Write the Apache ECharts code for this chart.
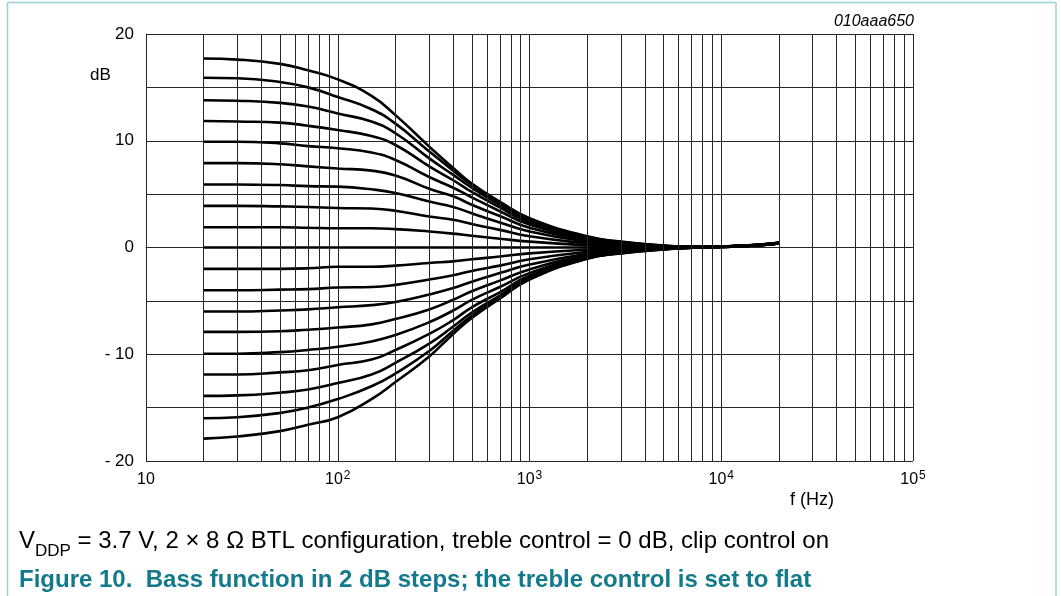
<!DOCTYPE html>
<html>
<head>
<meta charset="utf-8">
<script src="https://cdn.jsdelivr.net/npm/echarts@6/dist/echarts.min.js"></script>
<style>
html,body{margin:0;padding:0;background:#fff;}
#chart{width:1061px;height:596px;}
</style>
</head>
<body>
<div id="chart"></div>
<script>
// Frequencies (Hz) at which the curves were read
const freqs = [20,30,50,70,100,150,200,300,400,500,700,1000,2000,3000,5000,7000,10000,15000,20000];

// Bass boost / cut curves (dB), 2 dB steps
const b18 = [17.7,17.6,17.2,16.6,15.75,14.2,12.4,9.45,7.45,6.0,4.3,2.75,1.05,0.55,0.18,0.07,0.1,0.24,0.45];
const b16 = [15.9,15.85,15.5,15.0,14.1,12.95,11.6,9.0,7.2,5.85,4.2,2.65,1.0,0.52,0.17,0.07,0.1,0.24,0.44];
const b14 = [13.8,13.75,13.55,13.2,12.55,11.8,10.7,8.35,6.8,5.6,4.0,2.5,0.95,0.48,0.16,0.06,0.09,0.23,0.44];
const b12 = [11.85,11.8,11.7,11.4,11.0,10.45,9.6,7.6,6.3,5.2,3.75,2.35,0.88,0.44,0.15,0.06,0.09,0.23,0.43];
const b10 = [9.9,9.9,9.75,9.5,9.3,8.9,8.2,6.6,5.6,4.7,3.4,2.15,0.8,0.4,0.13,0.05,0.09,0.22,0.43];
const b8  = [7.9,7.9,7.8,7.6,7.4,7.2,6.75,5.5,4.8,4.0,2.95,1.85,0.68,0.34,0.11,0.05,0.08,0.22,0.42];
const b6  = [5.9,5.9,5.85,5.75,5.7,5.45,5.1,4.3,3.8,3.2,2.35,1.5,0.55,0.27,0.08,0.04,0.08,0.22,0.42];
const b4  = [3.9,3.9,3.85,3.8,3.7,3.65,3.45,2.9,2.6,2.2,1.65,1.05,0.38,0.18,0.05,0.03,0.08,0.21,0.42];
const b2  = [1.9,1.9,1.9,1.85,1.8,1.8,1.72,1.5,1.3,1.1,0.82,0.55,0.2,0.09,0.03,0.03,0.08,0.21,0.41];
const flat = [0,0,0,0,0,0,0,0,0,0,0,0,0,0,0,0.02,0.08,0.21,0.41];
const c2  = [-2.0,-2.0,-2.0,-1.95,-1.8,-1.8,-1.7,-1.45,-1.3,-1.1,-0.85,-0.55,-0.2,-0.1,-0.03,0.02,0.07,0.21,0.41];
const c4  = [-4.0,-4.0,-3.95,-3.9,-3.75,-3.7,-3.5,-3.0,-2.6,-2.2,-1.7,-1.1,-0.4,-0.2,-0.06,0.01,0.07,0.2,0.4];
const c6  = [-6.0,-6.0,-5.9,-5.8,-5.6,-5.4,-5.1,-4.4,-3.8,-3.2,-2.4,-1.6,-0.58,-0.3,-0.09,0.0,0.07,0.2,0.4];
const c8  = [-7.9,-7.9,-7.85,-7.7,-7.5,-7.2,-6.7,-5.8,-4.9,-4.1,-3.1,-2.05,-0.72,-0.37,-0.11,0.0,0.06,0.2,0.4];
const c10 = [-9.95,-9.95,-9.8,-9.6,-9.3,-8.8,-8.2,-7.0,-5.9,-4.9,-3.7,-2.4,-0.84,-0.43,-0.13,-0.01,0.06,0.2,0.39];
const c12 = [-11.9,-11.9,-11.7,-11.5,-11.0,-10.5,-9.6,-8.1,-6.8,-5.6,-4.2,-2.65,-0.93,-0.48,-0.15,-0.02,0.06,0.19,0.39];
const c14 = [-13.9,-13.85,-13.6,-13.3,-12.7,-11.9,-10.8,-9.0,-7.4,-6.1,-4.5,-2.8,-0.99,-0.51,-0.16,-0.02,0.05,0.19,0.39];
const c16 = [-16.0,-15.9,-15.5,-15.0,-14.2,-13.0,-11.8,-9.7,-7.8,-6.4,-4.7,-2.9,-1.03,-0.53,-0.17,-0.03,0.05,0.19,0.38];
const c18 = [-17.9,-17.7,-17.2,-16.6,-15.9,-14.2,-12.6,-10.2,-8.1,-6.6,-4.8,-3.0,-1.05,-0.55,-0.18,-0.03,0.05,0.19,0.38];

const curveList = [b18,b16,b14,b12,b10,b8,b6,b4,b2,flat,c2,c4,c6,c8,c10,c12,c14,c16,c18];

// Axis tick labels
const yTickLabels = {"20":"20","10":"10","0":"0","-10":"- 10","-20":"- 20"};
const xDecadeExp = {"10":null,"100":"2","1000":"3","10000":"4","100000":"5"};

const FONT = "'Liberation Sans', Arial, Helvetica, sans-serif";
const GRID_COLOR = '#262626';

// Minor log grid lines (2..9 in each decade)
const minorLines = [];
[10,100,1000,10000].forEach(function(d){
  for (let m = 2; m <= 9; m++) minorLines.push({xAxis: d*m});
});

const series = curveList.map(function(vals){
  return {
    type: 'line',
    data: freqs.map(function(f, j){ return [f, vals[j]]; }),
    symbol: 'none',
    smooth: 0.5,
    lineStyle: {color: '#000', width: 2.6},
    silent: true,
    z: 3
  };
});
series.unshift({
  type: 'line',
  data: [],
  symbol: 'none',
  silent: true,
  markLine: {
    silent: true,
    symbol: ['none','none'],
    label: {show: false},
    lineStyle: {color: GRID_COLOR, width: 1, type: 'solid'},
    data: minorLines,
    animation: false
  },
  z: 1
});

const chart = echarts.init(document.getElementById('chart'), null, {renderer: 'canvas'});
chart.setOption({
  animation: false,
  backgroundColor: '#fff',
  grid: {left: 146, top: 34, width: 767, height: 427, containLabel: false},
  xAxis: {
    type: 'log',
    logBase: 10,
    min: 10,
    max: 100000,
    axisLine: {show: true, lineStyle: {color: GRID_COLOR, width: 1}},
    axisTick: {show: false},
    splitLine: {show: true, lineStyle: {color: GRID_COLOR, width: 1}},
    axisLabel: {
      margin: 9,
      color: '#000',
      fontFamily: FONT,
      fontSize: 16,
      formatter: function(v){
        const key = String(Math.round(v));
        if (!(key in xDecadeExp)) return '';
        const e = xDecadeExp[key];
        if (e === null) return '{b|10}';
        return '{b|10}{s|' + e + '}';
      },
      rich: {
        b: {fontSize: 16, fontFamily: FONT, color: '#000', lineHeight: 18, verticalAlign: 'bottom'},
        s: {fontSize: 12, fontFamily: FONT, color: '#000', lineHeight: 18, verticalAlign: 'top', padding: [0,0,0,1]}
      }
    }
  },
  yAxis: {
    type: 'value',
    min: -20,
    max: 20,
    interval: 5,
    axisLine: {show: true, lineStyle: {color: GRID_COLOR, width: 1}},
    axisTick: {show: false},
    splitLine: {show: true, lineStyle: {color: GRID_COLOR, width: 1}},
    axisLabel: {
      margin: 12,
      color: '#000',
      fontFamily: FONT,
      fontSize: 17,
      formatter: function(v){
        const k = String(v);
        return (k in yTickLabels) ? yTickLabels[k] : '';
      }
    }
  },
  graphic: [
    {type: 'line', shape: {x1: 7.5, y1: 2.5, x2: 7.5, y2: 596}, style: {stroke: '#9ccfd8', lineWidth: 1.5}, silent: true},
    {type: 'line', shape: {x1: 7.5, y1: 2.5, x2: 1056, y2: 2.5}, style: {stroke: '#9ccfd8', lineWidth: 1.5}, silent: true},
    {type: 'line', shape: {x1: 1056, y1: 2.5, x2: 1056, y2: 596}, style: {stroke: '#9ccfd8', lineWidth: 1.5}, silent: true},
    {type: 'text', left: 90, top: 67, style: {text: 'dB', font: '17px ' + FONT, fill: '#000'}, silent: true},
    {type: 'text', right: 1061 - 914, top: 14, style: {text: '010aaa650', font: 'italic 16px ' + FONT, fill: '#000', textAlign: 'right'}, silent: true},
    {type: 'text', left: 790, top: 491, style: {text: 'f (Hz)', font: '18px ' + FONT, fill: '#000'}, silent: true},
    {type: 'text', left: 19, top: 529, style: {
      text: '{n|V}{sub|DDP}{n| = 3.7 V, 2 × 8 Ω BTL configuration, treble control = 0 dB, clip control on}',
      rich: {
        n: {fontSize: 24, fontFamily: FONT, fill: '#000', lineHeight: 26, verticalAlign: 'top'},
        sub: {fontSize: 17, fontFamily: FONT, fill: '#000', lineHeight: 26, verticalAlign: 'bottom', padding: [0,0,-5,0]}
      }
    }, silent: true},
    {type: 'text', left: 19, top: 568, style: {text: 'Figure 10.  Bass function in 2 dB steps; the treble control is set to flat', font: 'bold 24px ' + FONT, fill: '#137a8b'}, silent: true}
  ],
  series: series
});
</script>
</body>
</html>
